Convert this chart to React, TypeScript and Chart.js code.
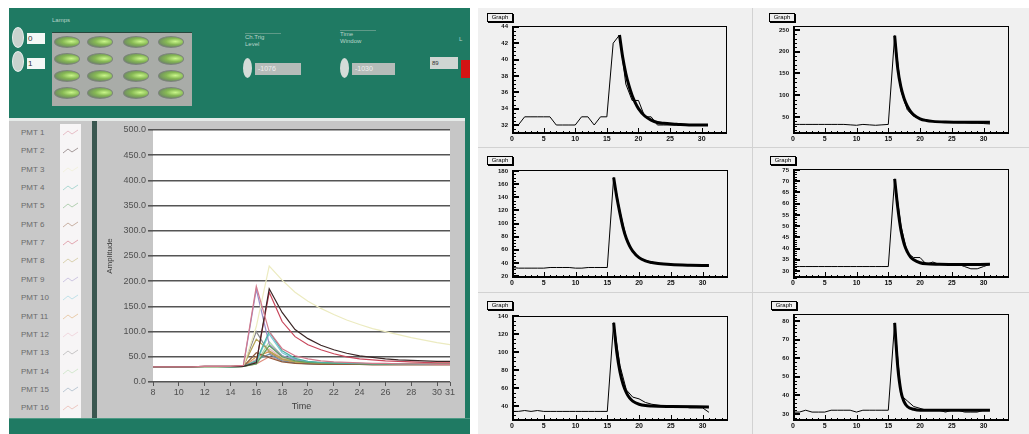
import React, { useEffect, useRef } from 'react';
import { Chart, registerables } from 'chart.js';
Chart.register(...registerables);

const FONT = "'Liberation Sans', Arial, sans-serif";

// ---------------- Left (LabVIEW) chart data ----------------
const timeAxis = [8, 9, 10, 11, 12, 13, 14, 15, 16, 17, 18, 19, 20, 21, 22, 23, 24, 25, 26, 27, 28, 29, 30, 31];
const timeTicks = [8, 10, 12, 14, 16, 18, 20, 22, 24, 26, 28, 30, 31];
const ampTicks = [0, 50, 100, 150, 200, 250, 300, 350, 400, 450, 500];
const pmtNames = ['PMT 1', 'PMT 2', 'PMT 3', 'PMT 4', 'PMT 5', 'PMT 6', 'PMT 7', 'PMT 8', 'PMT 9', 'PMT 10', 'PMT 11', 'PMT 12', 'PMT 13', 'PMT 14', 'PMT 15', 'PMT 16'];
const pmtColors = ['#d27a8c', '#3b2626', '#ecebc0', '#4fb3a6', '#5fa25f', '#8e5a3c', '#c8465a', '#b4a456', '#9a8cc8', '#7cc8d8', '#d89a50', '#e8b4c0', '#8a8a8a', '#a8d8a0', '#7090a8', '#e09080'];
const pmt1 = [30, 30, 30, 30, 31, 31, 31, 33, 190, 100, 66, 52, 46, 42, 40, 39, 38, 37, 37, 36, 36, 36, 35, 35];
const pmt2 = [30, 30, 30, 30, 31, 31, 31, 31, 38, 185, 138, 104, 86, 73, 64, 57, 52, 49, 46, 44, 43, 42, 41, 41];
const pmt3 = [30, 30, 30, 30, 30, 30, 31, 31, 110, 230, 202, 178, 160, 146, 134, 123, 114, 106, 100, 94, 88, 83, 78, 74];
const pmt4 = [30, 30, 30, 30, 30, 30, 30, 31, 42, 100, 62, 47, 41, 39, 38, 37, 37, 36, 36, 36, 36, 35, 35, 35];
const pmt5 = [30, 30, 30, 30, 30, 30, 30, 31, 36, 72, 50, 42, 39, 38, 37, 37, 36, 36, 36, 35, 35, 35, 35, 35];
const pmt6 = [30, 30, 30, 30, 30, 30, 30, 31, 58, 48, 40, 37, 36, 35, 35, 35, 35, 34, 34, 34, 34, 34, 34, 34];
const pmt7 = [30, 30, 30, 30, 31, 31, 31, 32, 40, 178, 120, 90, 74, 64, 56, 50, 46, 44, 42, 41, 40, 39, 38, 38];
const pmt8 = [30, 30, 30, 30, 30, 30, 30, 32, 85, 62, 46, 40, 38, 37, 36, 36, 36, 35, 35, 35, 35, 35, 35, 35];
const pmt9 = [30, 30, 30, 30, 30, 30, 30, 32, 184, 75, 52, 44, 40, 38, 37, 37, 36, 36, 36, 36, 35, 35, 35, 35];
const pmt10 = [30, 30, 30, 30, 30, 30, 30, 31, 40, 95, 58, 45, 40, 38, 37, 36, 36, 36, 35, 35, 35, 35, 35, 35];
const pmt11 = [30, 30, 30, 30, 30, 30, 30, 31, 50, 60, 45, 40, 38, 37, 36, 36, 36, 36, 36, 36, 37, 37, 37, 37];
const pmt12 = [30, 30, 30, 30, 30, 30, 30, 31, 45, 66, 48, 41, 38, 37, 36, 36, 35, 35, 35, 35, 35, 35, 35, 35];
const pmt13 = [30, 30, 30, 30, 30, 30, 30, 31, 100, 58, 45, 40, 38, 37, 36, 36, 35, 35, 35, 35, 35, 35, 35, 35];
const pmt14 = [30, 30, 30, 30, 30, 30, 30, 31, 38, 80, 52, 43, 39, 38, 37, 37, 36, 36, 36, 36, 36, 36, 36, 36];
const pmt15 = [30, 30, 30, 30, 30, 30, 30, 31, 44, 55, 42, 38, 36, 35, 35, 35, 35, 35, 35, 35, 35, 35, 35, 35];
const pmt16 = [30, 30, 30, 30, 30, 30, 30, 31, 36, 50, 42, 39, 37, 36, 36, 36, 36, 36, 36, 36, 36, 36, 36, 36];
const pmtSeries = [pmt1, pmt2, pmt3, pmt4, pmt5, pmt6, pmt7, pmt8, pmt9, pmt10, pmt11, pmt12, pmt13, pmt14, pmt15, pmt16];

// ---------------- Right (ROOT) graphs data ----------------
const sampleIdx = [0, 1, 2, 3, 4, 5, 6, 7, 8, 9, 10, 11, 12, 13, 14, 15, 16, 17, 18, 19, 20, 21, 22, 23, 24, 25, 26, 27, 28, 29, 30, 31];
const xLabelTicks = [0, 5, 10, 15, 20, 25, 30];
const raw1 = [32, 32, 33, 33, 33, 33, 33, 32, 32, 32, 32, 33, 33, 32, 33, 33, 42, 43, 37, 35, 35, 33, 33, 32, 32, 32, 32, 32, 32, 32, 32, 32];
const raw2 = [33, 33, 33, 33, 33, 33, 33, 33, 33, 32, 31, 33, 32, 31, 32, 33, 237, 110, 66, 52, 45, 42, 40, 39, 38, 38, 37, 37, 36, 36, 35, 34];
const raw3 = [33, 32, 32, 32, 32, 32, 33, 33, 33, 33, 32, 32, 33, 33, 33, 33, 170, 118, 78, 58, 48, 44, 41, 39, 38, 37, 37, 36, 36, 36, 35, 35];
const raw4 = [32, 32, 32, 32, 32, 32, 32, 32, 32, 32, 32, 32, 32, 32, 32, 32, 71, 50, 38, 36, 36, 33, 34, 33, 33, 33, 33, 32, 31, 31, 32, 33];
const raw5 = [34, 34, 35, 34, 35, 34, 34, 34, 34, 34, 34, 34, 34, 34, 34, 34, 133, 85, 58, 50, 48, 44, 42, 41, 40, 40, 40, 39, 38, 38, 38, 33];
const raw6 = [31, 31, 32, 31, 31, 31, 32, 32, 32, 32, 31, 32, 32, 32, 32, 32, 79, 40, 37, 34, 33, 32, 32, 32, 31, 32, 32, 31, 31, 31, 32, 32];
const fitX1 = [17, 17.5, 18, 18.5, 19, 19.5, 20, 21, 22, 23, 24, 26, 28, 31];
const fitY1 = [43, 40.3, 38.3, 36.8, 35.6, 34.7, 34.0, 33.1, 32.6, 32.3, 32.2, 32.1, 32.0, 32.0];
const fitX2 = [16, 16.5, 17, 17.5, 18, 18.5, 19, 20, 21, 22, 24, 27, 31];
const fitY2 = [237, 160, 118, 92, 75, 63, 55, 46, 42, 40, 38.5, 38, 38];
const fitX3 = [16, 16.5, 17, 17.5, 18, 18.5, 19, 20, 21, 22, 23, 25, 28, 31];
const fitY3 = [170, 140, 115, 93, 77, 66, 58, 48, 43, 40.5, 39, 37.5, 36.5, 36];
const fitX4 = [16, 16.5, 17, 17.5, 18, 18.5, 19, 20, 21, 23, 26, 31];
const fitY4 = [71, 58, 48, 42, 38.5, 36.2, 35, 33.7, 33.2, 33, 32.9, 33];
const fitX5 = [16, 16.5, 17, 17.5, 18, 18.5, 19, 20, 21, 22, 25, 31];
const fitY5 = [133, 100, 78, 64, 55, 49, 45.5, 42, 40.5, 40, 39.5, 39];
const fitX6 = [16, 16.5, 17, 17.5, 18, 19, 20, 31];
const fitY6 = [79, 55, 42, 36.5, 34, 32.5, 32, 32];
const yMins = [30.9, 11, 17, 26.9, 23.3, 26.2];
const yMaxs = [44.1, 259, 181.5, 75.4, 140.5, 83.8];
const ySteps = [2, 50, 20, 5, 20, 10];
const yMinorDiv = [4, 5, 4, 5, 4, 5];
const rawSets = [raw1, raw2, raw3, raw4, raw5, raw6];
const fitXs = [fitX1, fitX2, fitX3, fitX4, fitX5, fitX6];
const fitYs = [fitY1, fitY2, fitY3, fitY4, fitY5, fitY6];

// layout of the six ROOT pads (pixels)
const padLayout = [
  { left: 478, top: 8, width: 272, height: 139, area: { l: 512, r: 727, t: 26, b: 134 }, title: { l: 487, t: 13 } },
  { left: 754, top: 8, width: 275, height: 139, area: { l: 793, r: 1009, t: 26, b: 134 }, title: { l: 769, t: 13 } },
  { left: 478, top: 150, width: 272, height: 142, area: { l: 512, r: 728, t: 170, b: 278 }, title: { l: 487, t: 156 } },
  { left: 754, top: 150, width: 275, height: 142, area: { l: 793, r: 1009, t: 169, b: 278 }, title: { l: 770, t: 156 } },
  { left: 478, top: 295, width: 272, height: 139, area: { l: 512, r: 728, t: 316, b: 421 }, title: { l: 487, t: 301 } },
  { left: 754, top: 295, width: 275, height: 139, area: { l: 793, r: 1009, t: 314, b: 421 }, title: { l: 771, t: 301 } },
];

const rootFrame = {
  id: 'rootFrame',
  afterDraw(chart: any, _args: any, opts: any) {
    const { ctx, chartArea: a, scales } = chart;
    const xs = scales.x, ys = scales.y;
    ctx.save();
    ctx.strokeStyle = '#000';
    ctx.lineWidth = 1;
    ctx.strokeRect(a.left + 0.5, a.top + 0.5, a.right - a.left - 1, a.bottom - a.top - 1);
    ctx.lineWidth = 2;
    ctx.beginPath();
    ctx.moveTo(a.left + 1, a.top);
    ctx.lineTo(a.left + 1, a.bottom - 1);
    ctx.lineTo(a.right, a.bottom - 1);
    ctx.stroke();
    ctx.lineWidth = 1;
    ctx.beginPath();
    for (let k = 0; k <= 33; k++) {
      const px = Math.round(xs.getPixelForValue(k)) + 0.5;
      const len = k % 5 === 0 ? 6 : 3;
      ctx.moveTo(px, a.bottom);
      ctx.lineTo(px, a.bottom - len);
    }
    const minor = opts.step / opts.div;
    const k0 = Math.ceil(ys.min / minor);
    const k1 = Math.floor(ys.max / minor);
    for (let k = k0; k <= k1; k++) {
      const v = k * minor;
      const py = Math.round(ys.getPixelForValue(v)) + 0.5;
      const major = k % opts.div === 0;
      ctx.moveTo(a.left, py);
      ctx.lineTo(a.left + (major ? 7 : 4), py);
    }
    ctx.stroke();
    ctx.lineWidth = 2;
    ctx.beginPath();
    for (let k = k0; k <= k1; k++) {
      if (k % opts.div !== 0) continue;
      const py = Math.round(ys.getPixelForValue(k * minor));
      ctx.moveTo(a.left, py);
      ctx.lineTo(a.left + 7, py);
    }
    ctx.stroke();
    ctx.restore();
  },
};

const plotBg = {
  id: 'plotBg',
  beforeDraw(chart: any, _a: any, opts: any) {
    const { ctx, chartArea: a } = chart;
    ctx.save();
    ctx.fillStyle = opts.color || '#fff';
    ctx.fillRect(a.left, a.top, a.right - a.left, a.bottom - a.top);
    ctx.restore();
  },
};

function rootConfig(i: number): any {
  const p = padLayout[i];
  return {
    type: 'line',
    data: {
      datasets: [
        {
          data: fitXs[i].map((x, j) => ({ x, y: fitYs[i][j] })),
          borderColor: '#000',
          borderWidth: 3,
          pointRadius: 0,
          cubicInterpolationMode: 'monotone',
        },
        {
          data: sampleIdx.map((x, j) => ({ x, y: rawSets[i][j] })),
          borderColor: '#000',
          borderWidth: 1,
          pointRadius: 0,
          tension: 0,
        },
      ],
    },
    options: {
      animation: false,
      responsive: false,
      events: [],
      layout: { padding: { top: p.area.t - p.top, right: p.left + p.width - p.area.r, left: 0, bottom: 0 } },
      plugins: {
        legend: { display: false },
        tooltip: { enabled: false },
        rootFrame: { step: ySteps[i], div: yMinorDiv[i] },
        plotBg: { color: '#f0f0f0' },
      },
      scales: {
        x: {
          type: 'linear',
          min: 0,
          max: 34,
          afterBuildTicks: (s: any) => { s.ticks = xLabelTicks.map((v) => ({ value: v })); },
          afterFit: (s: any) => { s.height = p.top + p.height - p.area.b; },
          grid: { display: false, drawTicks: false },
          border: { display: false },
          ticks: { font: { size: 7, family: FONT, weight: 'bold' }, color: '#111', padding: 1, maxRotation: 0, autoSkip: false },
        },
        y: {
          type: 'linear',
          min: yMins[i],
          max: yMaxs[i],
          afterBuildTicks: (s: any) => {
            const t: any[] = [];
            for (let v = Math.ceil(yMins[i] / ySteps[i]) * ySteps[i]; v <= yMaxs[i]; v += ySteps[i]) t.push({ value: v });
            s.ticks = t;
          },
          afterFit: (s: any) => { s.width = p.area.l - p.left; },
          grid: { display: false, drawTicks: false },
          border: { display: false },
          ticks: { font: { size: 6, family: FONT, weight: 'bold' }, color: '#111', padding: 4, autoSkip: false },
        },
      },
    },
    plugins: [plotBg, rootFrame],
  };
}

function leftConfig(): any {
  return {
    type: 'line',
    data: {
      labels: timeAxis,
      datasets: pmtSeries.map((s, i) => ({
        label: pmtNames[i],
        data: timeAxis.map((t, j) => ({ x: t, y: s[j] })),
        borderColor: pmtColors[i],
        borderWidth: 1.2,
        pointRadius: 0,
        tension: 0,
      })),
    },
    options: {
      animation: false,
      responsive: false,
      events: [],
      layout: { padding: { top: 9, right: 15, left: 0, bottom: 0 } },
      plugins: { legend: { display: false }, tooltip: { enabled: false }, plotBg: { color: '#ffffff' } },
      scales: {
        x: {
          type: 'linear',
          min: 8,
          max: 31,
          afterBuildTicks: (s: any) => { s.ticks = timeTicks.map((v) => ({ value: v })); },
          afterFit: (s: any) => { s.height = 36; },
          grid: { drawOnChartArea: false, drawTicks: true, tickLength: 4, color: '#555' },
          border: { display: false },
          ticks: { font: { size: 9, family: FONT }, color: '#505050', padding: 1, maxRotation: 0, autoSkip: false },
          title: { display: true, text: 'Time', font: { size: 9, family: FONT }, color: '#404040', padding: { top: 0, bottom: 6 } },
        },
        y: {
          type: 'linear',
          min: 0,
          max: 500,
          afterBuildTicks: (s: any) => { s.ticks = ampTicks.map((v) => ({ value: v })); },
          afterFit: (s: any) => { s.width = 56; },
          grid: { color: '#555555', lineWidth: 1.6, drawTicks: true, tickLength: 5 },
          border: { display: false },
          ticks: { font: { size: 9, family: FONT }, color: '#505050', padding: 2, callback: (v: number) => v.toFixed(1) },
          title: { display: true, text: 'Amplitude', font: { size: 8, family: FONT }, color: '#404040', padding: { top: 8, bottom: 0 } },
        },
      },
    },
    plugins: [plotBg],
  };
}

function ChartCanvas({ left, top, width, height, bg, make }: any) {
  const ref = useRef<HTMLCanvasElement>(null);
  useEffect(() => {
    const c = new Chart(ref.current as HTMLCanvasElement, make());
    return () => c.destroy();
  }, []);
  return (
    <canvas
      ref={ref}
      width={width}
      height={height}
      style={{ position: 'absolute', left, top, width, height, background: bg, display: 'block' }}
    />
  );
}

const abs = (l: number, t: number, w: number, h: number, extra: any = {}) => ({ position: 'absolute' as const, left: l, top: t, width: w, height: h, ...extra });

const ledCols = [66, 99, 135, 170];
const ledRows = [41, 58, 75, 92];

export default function App() {
  const GREEN = '#1f7a63';
  return (
    <div style={{ position: 'fixed', left: 0, top: 0, width: 1029, height: 434, background: '#fff', overflow: 'hidden', fontFamily: FONT }}>
      {/* ---------- Left LabVIEW panel ---------- */}
      <div style={abs(9, 8, 461, 426, { background: GREEN })} />
      <div style={abs(12, 27, 10, 19, { background: '#c9d2ce', borderRadius: '50%', border: '1px solid #e8eeec' })} />
      <div style={abs(12, 51, 10, 19, { background: '#c9d2ce', borderRadius: '50%', border: '1px solid #e8eeec' })} />
      <div style={abs(27, 33, 17, 11, { background: '#f4f8f6', fontSize: 8, lineHeight: '11px', color: '#333', paddingLeft: 1 })}>0</div>
      <div style={abs(27, 58, 17, 11, { background: '#f4f8f6', fontSize: 8, lineHeight: '11px', color: '#333', paddingLeft: 1 })}>1</div>
      <div style={abs(52, 16, 40, 8, { fontSize: 6, color: '#b9d4ca', lineHeight: '8px' })}>Lamps</div>
      <div style={abs(52, 32, 140, 73, { background: '#a9aca8', borderTop: '1px solid #27463c' })} />
      {ledRows.map((cy, r) =>
        ledCols.map((cx, c) => (
          <div
            key={r + '-' + c}
            style={abs(cx - 12, cy - 5, 24, 10, {
              borderRadius: '50%',
              border: '1px solid #7c837c',
              background: 'radial-gradient(ellipse at 68% 45%, #c9f58a 0%, #86b854 40%, #6e8a62 75%, #8d948b 100%)',
            })}
          />
        ))
      )}
      <div style={abs(245, 33, 36, 22, { fontSize: 6, color: '#b9d4ca', lineHeight: '7px', borderTop: '1px solid #5f9a88' })}>Ch.Trig<br />Level</div>
      <div style={abs(243, 58, 9, 20, { background: '#d4dcd8', borderRadius: '50%' })} />
      <div style={abs(255, 63, 43, 12, { background: '#b5bcb9', fontSize: 7, lineHeight: '12px', color: '#eee', paddingLeft: 3 })}>-1076</div>
      <div style={abs(340, 30, 36, 25, { fontSize: 6, color: '#b9d4ca', lineHeight: '7px', borderTop: '1px solid #5f9a88' })}>Time<br />Window</div>
      <div style={abs(340, 58, 9, 20, { background: '#d4dcd8', borderRadius: '50%' })} />
      <div style={abs(352, 63, 40, 12, { background: '#b5bcb9', fontSize: 7, lineHeight: '12px', color: '#eee', paddingLeft: 3 })}>-1030</div>
      <div style={abs(459, 36, 11, 8, { fontSize: 6, color: '#b9d4ca' })}>L</div>
      <div style={abs(430, 57, 26, 12, { background: '#cfd6d2', fontSize: 6, lineHeight: '12px', color: '#333', paddingLeft: 2 })}>89</div>
      <div style={abs(461, 60, 9, 18, { background: '#d41414' })} />
      <div style={abs(9, 118, 456, 3, { background: '#e6ebe9' })} />
      <div style={abs(9, 121, 83, 297, { background: '#c8c8c8' })} />
      <div style={abs(60, 124, 21, 294, { background: '#f7f5f6' })} />
      {pmtNames.map((n, i) => (
        <React.Fragment key={n}>
          <div style={abs(21, 127 + i * 18.35, 40, 11, { fontSize: 8, lineHeight: '11px', color: '#6a6a6a' })}>{n}</div>
          <svg style={abs(63, 129 + i * 18.35, 16, 8)} width={16} height={8}>
            <polyline points="0,6 5,2 9,5 15,1" fill="none" stroke={pmtColors[i]} strokeOpacity={0.45} strokeWidth={1} />
          </svg>
        </React.Fragment>
      ))}
      <div style={abs(92, 121, 5, 297, { background: '#3a5750' })} />
      <ChartCanvas left={97} top={121} width={368} height={297} bg="#c6c6c6" make={leftConfig} />
      <div style={abs(9, 418, 461, 1, { background: '#4d9a85' })} />

      {/* ---------- Right ROOT canvas ---------- */}
      <div style={abs(478, 8, 551, 426, { background: '#f0f0f0' })} />
      {padLayout.map((p, i) => (
        <ChartCanvas key={'pad' + i} left={p.left} top={p.top} width={p.width} height={p.height} bg="#f0f0f0" make={() => rootConfig(i)} />
      ))}
      <div style={abs(752, 8, 1, 426, { background: '#d2d2d2' })} />
      <div style={abs(478, 147, 551, 1, { background: '#d2d2d2' })} />
      <div style={abs(478, 292, 551, 1, { background: '#d2d2d2' })} />
      {padLayout.map((p, i) => (
        <div
          key={'title' + i}
          style={abs(p.title.l, p.title.t, 24, 7, {
            background: '#f0f0f0',
            border: '1px solid #000',
            boxShadow: '1px 1px 0 #000',
            fontSize: 6,
            lineHeight: '7px',
            textAlign: 'center',
            color: '#000',
          })}
        >
          Graph
        </div>
      ))}
    </div>
  );
}
